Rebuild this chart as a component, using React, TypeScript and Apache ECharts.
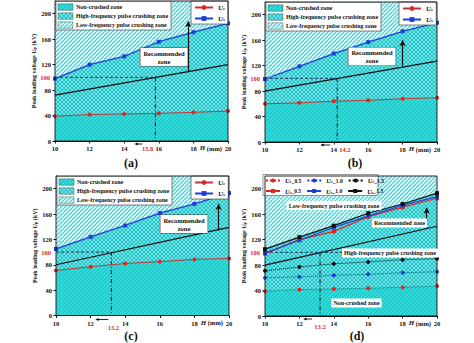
import React, { useEffect, useRef } from 'react';
import * as echarts from 'echarts';

// ---------- data ----------
const H = [10, 12, 14, 16, 18, 20];
const UC_05 = [39, 41.5, 42.5, 43.5, 45, 47];
const US_05 = [98, 120, 133, 156, 171, 185];
const UC_10 = [60, 61.5, 64, 65.5, 68, 69.5];
const US_10 = [99, 119, 139, 157, 174, 187.5];
const UC_15 = [71, 77, 82, 85, 88.5, 90];
const US_15 = [105, 124, 142, 161.5, 176, 193];
const BOUND_H = [10, 20];
const BOUND_A = [72, 120];
const BOUND_B = [80, 127];
const BOUND_C = [80, 139];
const BOUND_D = [80, 141];
const H_CUT = [15.8, 14.2, 13.2, 13.2];
const U_TARGET = 100;
const ARROW_H = [17.7, 18.0, 19.4, 19.4];
const ARROW_FROM = [109, 119, 134, 137];
const ARROW_TO = [188, 160, 176, 170];
const X_MIN = 10;
const X_MAX = 20;
const X_STEP = 2;
const Y_MIN = 0;
const Y_MAX = 220;
const Y_STEP = 40;
const PANEL_TAGS = ['(a)', '(b)', '(c)', '(d)'];
const ZONE_NAMES = ['Non-crushed zone', 'High-frequency pulse crushing zone', 'Low-frequency pulse crushing zone'];

// ---------- styles / layout ----------
const SERIF = '"Liberation Serif", "Times New Roman", serif';
const RED = '#E3231F';
const RED_LINE = '#B8393A';
const BLUE = '#1F3FD6';
const BLACK = '#111111';
const GRIDS = [
  { left: 55, top: 1, width: 173, height: 140 },
  { left: 265, top: 2, width: 172, height: 140 },
  { left: 56, top: 176, width: 173, height: 139.5 },
  { left: 265, top: 176, width: 172, height: 140 },
];

function makePattern(bg: string, line: string, lw: number, cross: boolean, size: number) {
  const c = document.createElement('canvas');
  c.width = size;
  c.height = size;
  const ctx = c.getContext('2d')!;
  ctx.fillStyle = bg;
  ctx.fillRect(0, 0, size, size);
  ctx.strokeStyle = line;
  ctx.lineWidth = lw;
  const diag = (flip: boolean) => {
    for (const o of [-size, 0, size]) {
      ctx.beginPath();
      if (!flip) {
        ctx.moveTo(o, size);
        ctx.lineTo(o + size, 0);
      } else {
        ctx.moveTo(o, 0);
        ctx.lineTo(o + size, size);
      }
      ctx.stroke();
    }
  };
  diag(false);
  if (cross) diag(true);
  return { image: c.toDataURL(), imageWidth: size, imageHeight: size, repeat: 'repeat' };
}

const pairs = (ys: number[]) => H.map((h, i) => [h, ys[i]]);

const subRich = {
  i: { fontStyle: 'italic', fontWeight: 'bold', fontSize: 7, fontFamily: SERIF, color: BLACK },
  s: { fontSize: 5, fontWeight: 'bold', fontFamily: SERIF, color: BLACK, verticalAlign: 'bottom' },
  n: { fontSize: 6, fontWeight: 'bold', fontFamily: SERIF, color: BLACK },
};

export default function App() {
  const ref = useRef<HTMLDivElement>(null);
  useEffect(() => {
    if (!ref.current) return;
    const chart = echarts.init(ref.current, undefined, { renderer: 'svg' });
    const NON = makePattern('#30D8D8', '#1FBCC2', 1, false, 4);
    const HIGH = makePattern('#74E4E4', '#22C2C8', 1, true, 4);
    const LOW = makePattern('#E6FAFA', '#55D3D8', 1.3, false, 4);
    const ZPATS = [NON, HIGH, LOW];

    const xAxes = GRIDS.map((_, p) => ({
      type: 'value', gridIndex: p, min: X_MIN, max: X_MAX, interval: X_STEP,
      splitLine: { show: false },
      axisLine: { lineStyle: { color: BLACK, width: 1 } },
      axisTick: { length: 2.5, lineStyle: { color: BLACK } },
      axisLabel: { fontSize: 6.5, fontWeight: 'bold', fontFamily: SERIF, color: BLACK, margin: 4 },
    }));
    const yAxes = GRIDS.map((_, p) => ({
      type: 'value', gridIndex: p, min: Y_MIN, max: Y_MAX, interval: Y_STEP,
      splitLine: { show: false },
      axisLine: { show: true, lineStyle: { color: BLACK, width: 1 } },
      axisTick: { show: true, length: 2.5, lineStyle: { color: BLACK } },
      axisLabel: { fontSize: 6.5, fontWeight: 'bold', fontFamily: SERIF, color: BLACK, margin: 4, showMaxLabel: false },
      name: 'Peak loading voltage {i|U}{s|p} (kV)',
      nameLocation: 'middle', nameGap: 15,
      nameTextStyle: {
        fontFamily: SERIF, fontWeight: 'bold', fontSize: 6, color: BLACK,
        rich: {
          i: { fontStyle: 'italic', fontWeight: 'bold', fontSize: 6, fontFamily: SERIF, color: BLACK },
          s: { fontSize: 4.5, fontWeight: 'bold', fontFamily: SERIF, color: BLACK, verticalAlign: 'bottom' },
        },
      },
    }));

    const series: any[] = [];
    const ax = (p: number) => ({ xAxisIndex: p, yAxisIndex: p });
    const zones = (p: number, high: number[], low: number[]) => {
      series.push({ type: 'line', ...ax(p), silent: true, data: BOUND_H.map((h) => [h, Y_MAX]), symbol: 'none', lineStyle: { width: 0 }, areaStyle: { color: LOW, opacity: 1 } });
      series.push({ type: 'line', ...ax(p), silent: true, data: pairs(high), symbol: 'none', lineStyle: { width: 0 }, areaStyle: { color: HIGH, opacity: 1 } });
      series.push({ type: 'line', ...ax(p), silent: true, data: pairs(low), symbol: 'none', lineStyle: { width: 0 }, areaStyle: { color: NON, opacity: 1 } });
    };
    const boundary = (p: number, b: number[]) => {
      series.push({
        type: 'line', ...ax(p), silent: true, data: BOUND_H.map((h, i) => [h, b[i]]), symbol: 'none',
        lineStyle: { color: BLACK, width: 1.2 },
        markLine: {
          silent: true, symbol: ['none', 'arrow'], symbolSize: [5, 6], label: { show: false },
          lineStyle: { color: BLACK, width: 1.2, type: 'solid' },
          data: [[{ coord: [ARROW_H[p], ARROW_FROM[p]] }, { coord: [ARROW_H[p], ARROW_TO[p]] }]],
        },
      });
    };
    const dashed = (p: number, hEnd: number) => {
      series.push({ type: 'line', ...ax(p), silent: true, data: [[X_MIN, U_TARGET], [hEnd, U_TARGET]], symbol: 'none', lineStyle: { color: '#1b2450', width: 0.9, type: [3, 2] } });
      series.push({ type: 'line', ...ax(p), silent: true, data: [[H_CUT[p], U_TARGET], [H_CUT[p], Y_MIN]], symbol: 'none', lineStyle: { color: BLACK, width: 1, type: [4, 2, 1, 2] } });
    };

    const singles = [
      [UC_05, US_05, BOUND_A],
      [UC_10, US_10, BOUND_B],
      [UC_15, US_15, BOUND_C],
    ];
    singles.forEach(([uc, us, b], p) => {
      zones(p, us, uc);
      boundary(p, b);
      dashed(p, H_CUT[p]);
      series.push({ type: 'line', name: 'Uc', ...ax(p), data: pairs(uc), symbol: 'circle', symbolSize: 4, itemStyle: { color: RED }, lineStyle: { color: RED_LINE, width: 1 } });
      series.push({ type: 'line', name: 'Us', ...ax(p), data: pairs(us), symbol: 'rect', symbolSize: 4, itemStyle: { color: BLUE }, lineStyle: { color: BLUE, width: 1.3 } });
    });
    // panel d
    zones(3, US_15, UC_05);
    boundary(3, BOUND_D);
    dashed(3, X_MAX);
    const dSets: [string, number[], string, boolean][] = [
      ['Uc05', UC_05, RED, true], ['Uc10', UC_10, BLUE, true], ['Uc15', UC_15, BLACK, true],
      ['Us05', US_05, RED, false], ['Us10', US_10, BLUE, false], ['Us15', US_15, BLACK, false],
    ];
    dSets.forEach(([name, ys, col, dotted]) => {
      series.push({
        type: 'line', name, ...ax(3), data: pairs(ys), symbol: dotted ? 'circle' : 'rect', symbolSize: 4,
        itemStyle: { color: col }, lineStyle: { color: col, width: dotted ? 1 : 1.2, type: dotted ? 'dotted' : 'solid' },
      });
    });

    const legTextStyle = { fontFamily: SERIF, fontWeight: 'bold', fontSize: 7, color: BLACK, rich: subRich };
    const singleLegend = (left: number, top: number) => ({
      left, top, orient: 'vertical', itemWidth: 18, itemHeight: 6, itemGap: 4, padding: [3, 3, 2, 3],
      backgroundColor: '#fff', borderColor: '#333', borderWidth: 0.6, selectedMode: false,
      data: ['Uc', 'Us'],
      formatter: (n: string) => (n === 'Uc' ? '{i|U}{s|c}' : '{i|U}{s|s}'),
      textStyle: legTextStyle,
    });
    const dRich = {
      i: { fontStyle: 'italic', fontWeight: 'bold', fontSize: 6.5, fontFamily: SERIF, color: BLACK },
      s: { fontSize: 4.5, fontWeight: 'bold', fontFamily: SERIF, color: BLACK, verticalAlign: 'bottom' },
      n: { fontSize: 5.5, fontWeight: 'bold', fontFamily: SERIF, color: BLACK },
    };
    const dLegend = (top: number, names: string[]) => ({
      left: 265, top, orient: 'horizontal', itemWidth: 14, itemHeight: 5, itemGap: 5,
      padding: 0, selectedMode: false, z: 6,
      data: names,
      formatter: (n: string) => `{i|U}{s|${n[1]}}{n|_${n[2]}.${n[3]}}`,
      textStyle: { fontFamily: SERIF, fontWeight: 'bold', fontSize: 6, color: BLACK, rich: dRich },
    });
    const legends = [
      singleLegend(191, 1),
      singleLegend(399, 2),
      singleLegend(191, 176),
      dLegend(177, ['Uc05', 'Uc10', 'Uc15']),
      dLegend(187.5, ['Us05', 'Us10', 'Us15']),
    ];

    chart.setOption({
      animation: false,
      grid: GRIDS,
      xAxis: xAxes,
      yAxis: yAxes,
      legend: legends,
      series,
    } as any);

    // ----- annotations placed through the axes' scales -----
    const px = (p: number, x: number, y: number) => chart.convertToPixel({ gridIndex: p } as any, [x, y]) as number[];
    const txt = (x: number, y: number, text: string, opts: any = {}) => ({
      type: 'text', x, y, z: 120,
      style: {
        text, fill: opts.fill || BLACK, fontSize: opts.fontSize || 6.5, fontWeight: 'bold', fontFamily: SERIF,
        align: opts.align || 'center', verticalAlign: 'middle', lineHeight: opts.lineHeight,
        backgroundColor: opts.bg, borderColor: opts.border, borderWidth: opts.border ? 0.6 : 0,
        padding: opts.padding, rich: opts.rich,
      },
    });
    const g: any[] = [];
    const CUT_LABEL = [
      { dx: -2, dy: 7, align: 'right', a0: -13, a1: -21, ay: 3 },
      { dx: 2, dy: 7, align: 'left', a0: -7, a1: -17, ay: 3 },
      { dx: 2, dy: 12, align: 'center', a0: -3, a1: -16, ay: 4 },
      { dx: 0, dy: 10, align: 'center', a0: -8, a1: -17, ay: 3 },
    ];
    GRIDS.forEach((gr, p) => {
      // frame
      g.push({ type: 'rect', z: 110, shape: { x: gr.left, y: gr.top, width: gr.width, height: gr.height }, style: { fill: 'none', stroke: BLACK, lineWidth: 0.9 } });
      const [x0, y100] = px(p, X_MIN, U_TARGET);
      g.push(txt(x0 - 5, y100, String(U_TARGET), { fill: RED, align: 'right' }));
      const [xc, yAxisPx] = px(p, H_CUT[p], Y_MIN);
      const c = CUT_LABEL[p];
      g.push(txt(xc + c.dx, yAxisPx + c.dy, String(H_CUT[p]), { fill: RED, align: c.align }));
      const ay = yAxisPx + c.ay;
      g.push({ type: 'line', z: 120, shape: { x1: xc + c.a0, y1: ay, x2: xc + c.a1 + 2, y2: ay }, style: { stroke: BLACK, lineWidth: 0.9 } });
      g.push({ type: 'polygon', z: 120, shape: { points: [[xc + c.a1, ay], [xc + c.a1 + 3.5, ay - 1.6], [xc + c.a1 + 3.5, ay + 1.6]] }, style: { fill: BLACK } });
      const [x20] = px(p, X_MAX, Y_MIN);
      g.push(txt(x20 - 6, yAxisPx + 7, '{i|H} (mm)', { align: 'right', rich: { i: { fontStyle: 'italic', fontWeight: 'bold', fontSize: 7, fontFamily: SERIF, fill: BLACK } } }));
      // zone legend (a-c)
      if (p < 3) {
        const lx = gr.left + 1;
        const ly = gr.top + 0.5;
        g.push({ type: 'rect', z: 110, shape: { x: lx, y: ly, width: 115, height: 28.5 }, style: { fill: '#fff', stroke: '#333', lineWidth: 0.6 } });
        ZONE_NAMES.forEach((name, i) => {
          g.push({ type: 'rect', z: 115, shape: { x: lx + 2, y: ly + 2.3 + i * 9, width: 15, height: 6.5 }, style: { fill: ZPATS[i], stroke: '#333', lineWidth: 0.4 } });
          g.push(txt(lx + 20, ly + 5.6 + i * 9, name, { align: 'left', fontSize: 6 }));
        });
      }
    });
    // white box behind the two-row legend of panel d (below the legend layer)
    g.push({ type: 'rect', z: 3, shape: { x: 263, y: 174.5, width: 115, height: 21 }, style: { fill: '#fff', stroke: '#333', lineWidth: 0.5 } });
    // panel tags
    const TAG_POS = [[131, 163], [355, 163], [131, 336], [357, 336]];
    PANEL_TAGS.forEach((t, i) => g.push(txt(TAG_POS[i][0], TAG_POS[i][1], t, { fontSize: 12 })));
    // boxed zone captions
    g.push(txt(164, 57, 'Recommended\nzone', { bg: '#fff', border: '#444', padding: [1, 3], lineHeight: 8 }));
    g.push(txt(372, 56.5, 'Recommended\nzone', { bg: '#fff', border: '#444', padding: [1, 3], lineHeight: 8 }));
    g.push(txt(184, 224, 'Recommended\nzone', { bg: '#fff', border: '#444', padding: [1, 3], lineHeight: 8 }));
    g.push(txt(334, 205.5, 'Low-frequency pulse crushing zone', { bg: '#fff', padding: [1.5, 2], fontSize: 6 }));
    g.push(txt(399.5, 223, 'Recommended zone', { bg: '#fff', padding: [1.5, 2], fontSize: 6 }));
    g.push(txt(390, 253, 'High-frequency pulse crushing zone', { bg: '#fff', padding: [1.5, 2], fontSize: 6 }));
    g.push(txt(356.5, 303, 'Non-crushed zone', { bg: '#fff', padding: [1.5, 2], fontSize: 6 }));

    chart.setOption({ graphic: { elements: g } } as any);
    return () => chart.dispose();
  }, []);
  return <div ref={ref} style={{ position: 'fixed', left: 0, top: 0, width: 474, height: 343, background: '#fff' }} />;
}
